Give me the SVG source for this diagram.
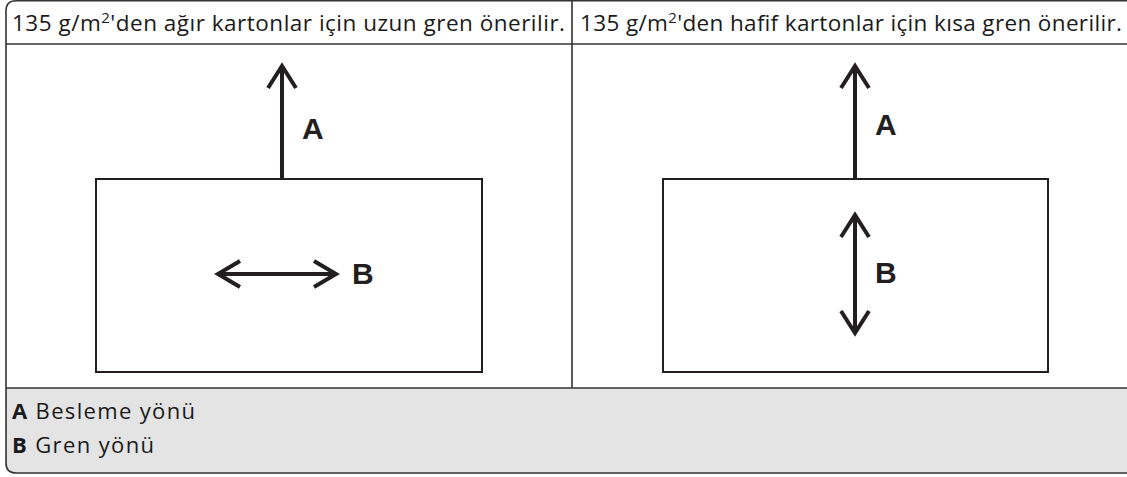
<svg xmlns="http://www.w3.org/2000/svg" width="1127" height="477" viewBox="0 0 1127 477">
<style>
.hdr{font-family:"Open Sans","Liberation Sans",Arial,sans-serif;font-size:22.5px;fill:#1a1a1a}
.lbl{font-family:"Liberation Sans",Arial,sans-serif;font-size:30px;font-weight:bold;fill:#231f20}
.leg{font-family:"Open Sans","Liberation Sans",Arial,sans-serif;font-size:22px;fill:#1a1a1a}
.legb{font-weight:bold}
.frame{fill:none;stroke:#333;stroke-width:1.6}
.box{fill:none;stroke:#231f20;stroke-width:2}
.arr{fill:none;stroke:#231f20;stroke-width:4;stroke-linecap:butt;stroke-linejoin:miter}
</style>
<g id="table">
<path d="M1127,388 V473 H16 Q6,473 6,463 V388 Z" fill="#e4e4e4"/>
<path class="frame" d="M1127,0.8 H16 Q6,0.8 6,11 V463 Q6,473 16,473 H1127"/>
<line class="frame" x1="6" y1="44" x2="1127" y2="44"/>
<line class="frame" x1="572" y1="0" x2="572" y2="388"/>
<line class="frame" x1="6" y1="388" x2="1127" y2="388"/>
<text class="hdr" x="12" y="31" textLength="553" lengthAdjust="spacing">135 g/m<tspan dy="-8" font-size="15">2</tspan><tspan dy="8">'den ağır kartonlar için uzun gren önerilir.</tspan></text>
<text class="hdr" x="580" y="31" textLength="542" lengthAdjust="spacing">135 g/m<tspan dy="-8" font-size="15">2</tspan><tspan dy="8">'den hafif kartonlar için kısa gren önerilir.</tspan></text>
</g>
<g id="left-sheet">
<rect class="box" x="96" y="179" width="386" height="193"/>
</g>
<g id="right-sheet">
<rect class="box" x="663" y="179" width="385" height="193"/>
</g>
<g id="connectors">
<path class="arr" d="M282,179 V66 M268,88 L282,66 L296,88"/>
<path class="arr" d="M218,274 H336 M240,261 L218,274 L240,287 M314,261 L336,274 L314,287"/>
<path class="arr" d="M855,179 V66 M841,88 L855,66 L869,88"/>
<path class="arr" d="M855,215 V333 M841,237 L855,215 L869,237 M841,311 L855,333 L869,311"/>
</g>
<g id="labels">
<text class="lbl" x="302" y="139">A</text>
<text class="lbl" x="352" y="284">B</text>
<text class="lbl" x="875" y="135">A</text>
<text class="lbl" x="875" y="283">B</text>
</g>
<g id="legend">
<text class="leg" x="12" y="419" textLength="183" lengthAdjust="spacing"><tspan class="legb">A</tspan> Besleme yönü</text>
<text class="leg" x="12" y="453" textLength="142" lengthAdjust="spacing"><tspan class="legb">B</tspan> Gren yönü</text>
</g>
</svg>
